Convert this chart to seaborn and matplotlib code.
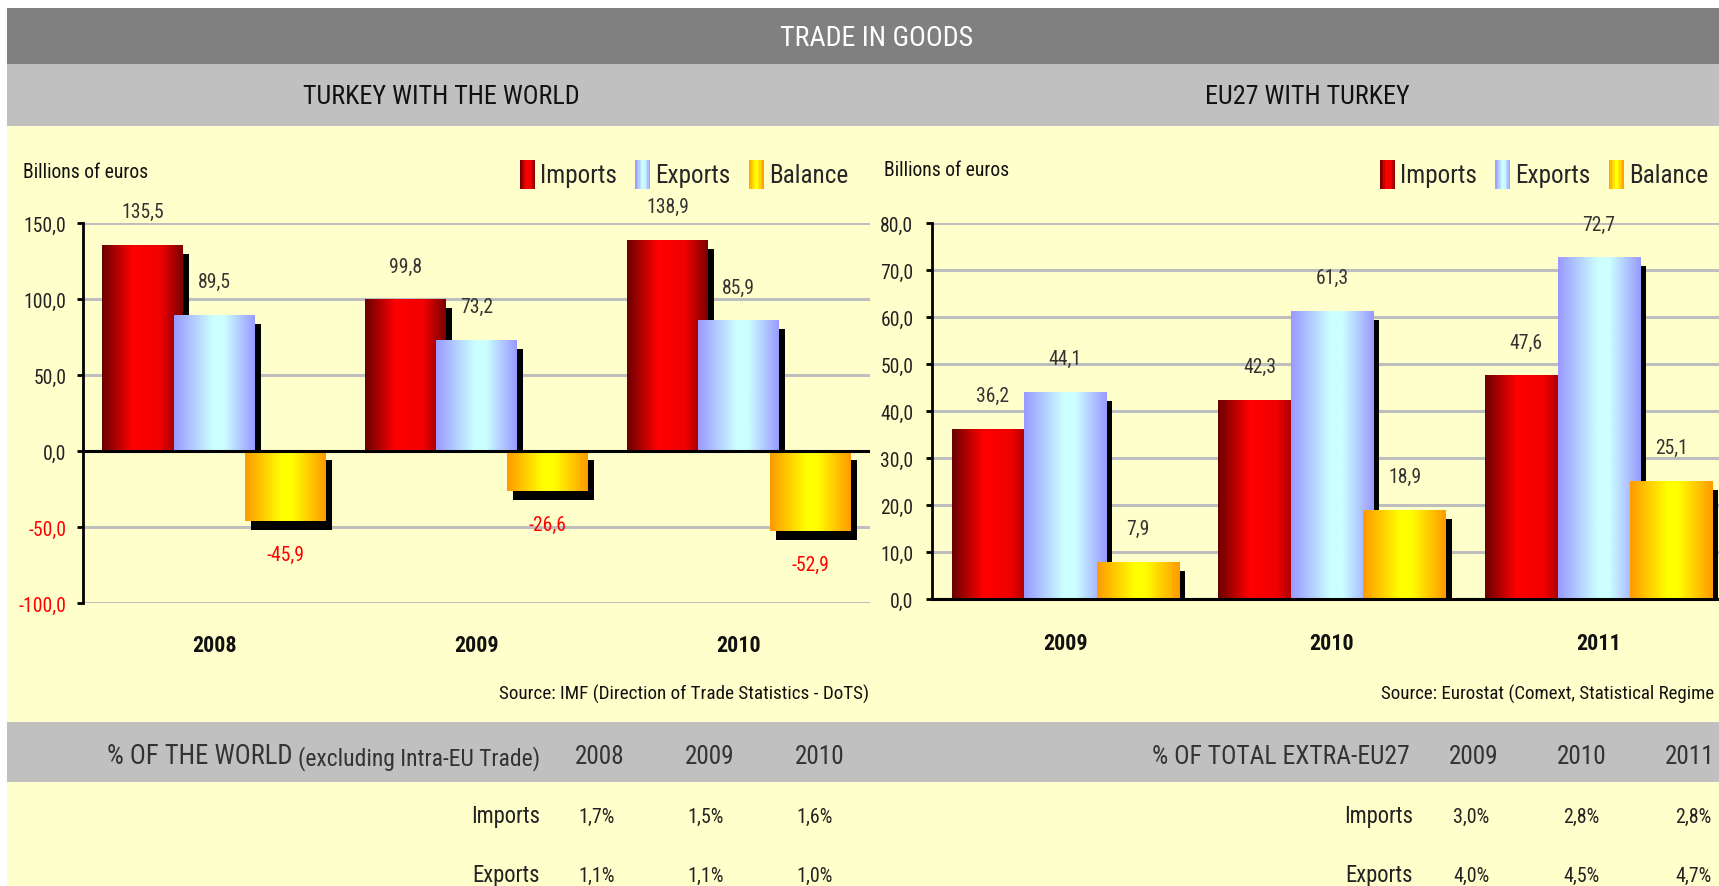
import numpy as np
import pandas as pd
import matplotlib
matplotlib.use("Agg")
import matplotlib.pyplot as plt
import seaborn as sns
import matplotlib.font_manager as fm
from matplotlib.font_manager import FontProperties
from matplotlib.textpath import TextToPath
from matplotlib.patches import Rectangle, Patch
from matplotlib.colors import LinearSegmentedColormap, to_hex
from matplotlib.legend_handler import HandlerBase
from matplotlib.transforms import ScaledTranslation, Bbox, TransformedBbox

# ---------------- data ----------------
series = ["Imports", "Exports", "Balance"]

world_years = ["2008", "2009", "2010"]
world_imports = [135.5, 99.8, 138.9]
world_exports = [89.5, 73.2, 85.9]
world_balance = [-45.9, -26.6, -52.9]
world_ticks = [-100, -50, 0, 50, 100, 150]

eu_years = ["2009", "2010", "2011"]
eu_imports = [36.2, 42.3, 47.6]
eu_exports = [44.1, 61.3, 72.7]
eu_balance = [7.9, 18.9, 25.1]
eu_ticks = [0, 10, 20, 30, 40, 50, 60, 70, 80]

world_share_years = ["2008", "2009", "2010"]
world_share_imports = [1.7, 1.5, 1.6]
world_share_exports = [1.1, 1.1, 1.0]

eu_share_years = ["2009", "2010", "2011"]
eu_share_imports = [3.0, 2.8, 2.8]
eu_share_exports = [4.0, 4.5, 4.7]

# ---------------- font choice (narrow sans if available) ----------------
sns.set_style("white")


def stretch_val(s):
    if isinstance(s, (int, float)):
        return s
    return fm.stretch_dict.get(s, 500)


pref = ["Liberation Sans Narrow", "Roboto Condensed", "Open Sans Condensed",
        "Noto Sans Condensed", "Noto Sans", "DejaVu Sans Condensed", "DejaVu Sans",
        "Open Sans", "Roboto", "Lato", "Inter"]
cands = []
for f in fm.fontManager.ttflist:
    if f.style != "normal":
        continue
    sv = stretch_val(f.stretch)
    nm = f.name
    if sv < 500 or "narrow" in nm.lower() or "condensed" in nm.lower():
        if nm in pref and "CJK" not in nm:
            cands.append((pref.index(nm), abs(sv - 300), nm, sv))
if cands:
    cands.sort()
    FAMILY, STRETCH = cands[0][2], cands[0][3]
else:
    FAMILY, STRETCH = "Liberation Sans", 500

plt.rcParams["font.family"] = [FAMILY, "Liberation Sans", "DejaVu Sans"]
plt.rcParams["font.stretch"] = STRETCH

sample = "Imports Exports Balance 0123456789 TRADE IN GOODS"
t2p = TextToPath()
w_pick = t2p.get_text_width_height_descent(
    sample, FontProperties(family=[FAMILY], stretch=STRETCH, size=100), ismath=False)[0]
w_lib = t2p.get_text_width_height_descent(
    sample, FontProperties(family=["Liberation Sans"], size=100), ismath=False)[0]
K = min(1.15, (0.82 * w_lib) / w_pick)


def fs(size):
    return size * K


W, H = 1719, 887
fig = plt.figure(figsize=(W / 100, H / 100), dpi=100)
fig.patch.set_facecolor("white")


def fx(x):
    return x / W


def fy(y):
    return 1 - y / H


def band(x0, y0, x1, y1, color):
    fig.add_artist(Rectangle((fx(x0), fy(y1)), fx(x1) - fx(x0), fy(y0) - fy(y1),
                             transform=fig.transFigure, facecolor=color,
                             edgecolor="none", zorder=-10))


band(7, 9, W + 5, 65, "#808080")
band(7, 65, W + 5, 127, "#C0C0C0")
band(7, 127, W + 5, 723, "#FFFFCC")
band(7, 723, W + 5, 783, "#C0C0C0")
band(7, 783, W + 5, H + 5, "#FFFFCC")

fig.text(fx(877), fy(38), "TRADE IN GOODS", color="white", fontsize=fs(21),
         ha="center", va="center")
fig.text(fx(441), fy(97), "TURKEY WITH THE WORLD", color="#111111", fontsize=fs(19.6),
         ha="center", va="center")
fig.text(fx(1307), fy(97), "EU27 WITH TURKEY", color="#111111", fontsize=fs(19.6),
         ha="center", va="center")

cmaps = {
    "Imports": LinearSegmentedColormap.from_list(
        "imp", [(0, "#6A0000"), (0.38, "#FF0000"), (0.72, "#F00000"), (1, "#7A0000")]),
    "Exports": LinearSegmentedColormap.from_list(
        "exp", [(0, "#9999FF"), (0.48, "#CCFFFF"), (0.62, "#CCFFFF"), (1, "#9999FF")]),
    "Balance": LinearSegmentedColormap.from_list(
        "bal", [(0, "#FF9900"), (0.45, "#FFFF00"), (0.58, "#FFFF00"), (1, "#FF9900")]),
}
palette = {"Imports": "#E00000", "Exports": "#BBDDFF", "Balance": "#FFCC00"}
zord = {"Imports": 2, "Exports": 3, "Balance": 4}


def fmt(v):
    return f"{v:.1f}".replace(".", ",")


def draw_chart(ax, years, imports, exports, balance, ticks, ylim, xpad, ypad):
    df = pd.DataFrame({
        "year": years * 3,
        "series": np.repeat(series, len(years)),
        "value": imports + exports + balance,
    })
    sns.barplot(data=df, x="year", y="value", hue="series", hue_order=series,
                order=years, palette=palette, width=0.816, saturation=1,
                errorbar=None, legend=False, ax=ax, linewidth=0)
    color_to_series = {to_hex(c): s for s, c in palette.items()}
    new_w = 0.308
    for cont in ax.containers:
        s = color_to_series[to_hex(cont.patches[0].get_facecolor())]
        z = zord[s]
        for p in cont.patches:
            xc = p.get_x() + p.get_width() / 2
            p.set_x(xc - new_w / 2)
            p.set_width(new_w)
            p.set_zorder(z)
            x0, y0, h = p.get_x(), p.get_y(), p.get_height()
            # drop shadow
            sh_tr = ax.transData + ScaledTranslation(6 / 100, -9 / 100, fig.dpi_scale_trans)
            sh = Rectangle((x0, y0), new_w, h, transform=sh_tr, facecolor="black",
                           edgecolor="none", zorder=z - 0.3)
            ax.add_patch(sh)
            if h > 0:
                sh.set_clip_box(TransformedBbox(Bbox([[-0.5, 0], [2.5, ylim[1]]]), ax.transData))
            # gradient face
            grad = cmaps[s](np.linspace(0, 1, 256))[np.newaxis, :, :]
            ext = (x0, x0 + new_w, min(y0, y0 + h), max(y0, y0 + h))
            im = ax.imshow(grad, extent=ext, aspect="auto", interpolation="bilinear",
                           origin="lower", zorder=z + 0.1)
            im.set_clip_path(p)
            # value label
            v = h
            ax.annotate(fmt(v), xy=(xc, v), xytext=(0, 24 if v >= 0 else -24),
                        textcoords="offset points", ha="center", va="center",
                        fontsize=fs(14.8), color="#FF0000" if v < 0 else "#333333",
                        zorder=10, annotation_clip=False)

    ax.set_xlim(-0.5, 2.5)
    ax.set_ylim(*ylim)
    ax.set_facecolor("none")
    ax.set_yticks(ticks)
    ax.set_yticklabels([fmt(t) for t in ticks])
    for lab, t in zip(ax.get_yticklabels(), ticks):
        lab.set_color("#FF0000" if t < 0 else "#222222")
    ax.yaxis.grid(True, color="#BEBEBE", linewidth=2.2)
    ax.xaxis.grid(False)
    ax.set_axisbelow(True)
    ax.set_xlabel("")
    ax.set_ylabel("")
    ax.tick_params(axis="y", direction="out", length=4, width=2, pad=ypad,
                   labelsize=fs(14.8), left=True, color="black")
    ax.tick_params(axis="x", length=0, pad=xpad, labelsize=fs(16.5))
    for lab in ax.get_xticklabels():
        lab.set_fontweight("bold")
        lab.set_color("#111111")
    for sp in ["top", "right"]:
        ax.spines[sp].set_visible(False)
    ax.spines["left"].set_color("black")
    ax.spines["left"].set_linewidth(2)


axL = fig.add_axes([fx(83), fy(604), (870 - 83) / W, (604 - 224) / H])
draw_chart(axL, world_years, world_imports, world_exports, world_balance,
           world_ticks, (-100, 150), xpad=22, ypad=8)
axL.spines["bottom"].set_visible(False)
axL.axhline(0, color="black", linewidth=2.2, zorder=6)

axR = fig.add_axes([fx(932), fy(600), 800 / W, (600 - 224) / H])
draw_chart(axR, eu_years, eu_imports, eu_exports, eu_balance,
           eu_ticks, (0, 80), xpad=24, ypad=9.4)
axR.spines["bottom"].set_color("black")
axR.spines["bottom"].set_linewidth(2.2)
axR.spines["bottom"].set_zorder(6)

# "Billions of euros"
fig.text(fx(23), fy(172), "Billions of euros", fontsize=fs(14.8), ha="left",
         va="center", color="#111111")
fig.text(fx(884), fy(170), "Billions of euros", fontsize=fs(14.8), ha="left",
         va="center", color="#111111")


# legends with gradient swatches
class GradHandler(HandlerBase):
    def __init__(self, cmap):
        super().__init__()
        self.cmap = cmap

    def create_artists(self, legend, orig_handle, xdescent, ydescent, width, height,
                       fontsize, trans):
        n = 10
        arts = []
        for i in range(n):
            arts.append(Rectangle((-xdescent + width * i / n, -ydescent - 0.18 * height),
                                  width / n * 1.08, height * 1.22,
                                  facecolor=self.cmap((i + 0.5) / n),
                                  edgecolor="none", transform=trans))
        return arts


for anchor_x in (520, 1380):
    handles = [Patch(facecolor=palette[s], label=s) for s in series]
    fig.legend(handles=handles, labels=series, loc="center left",
               bbox_to_anchor=(fx(anchor_x), fy(175)), bbox_transform=fig.transFigure,
               frameon=False, borderpad=0, borderaxespad=0, ncol=3,
               handlelength=0.57 / K, handleheight=1.0 / K, handletextpad=0.2 / K,
               columnspacing=0.68 / K, fontsize=fs(19),
               handler_map={h: GradHandler(cmaps[h.get_label()]) for h in handles})

# sources
fig.text(fx(869), fy(694), "Source: IMF (Direction of Trade Statistics - DoTS)",
         fontsize=fs(14.4), ha="right", va="center", color="#111111")
fig.text(fx(1714), fy(694), "Source: Eurostat (Comext, Statistical Regime",
         fontsize=fs(14.2), ha="right", va="center", color="#111111")

# tables
renderer = fig.canvas.get_renderer()
excl = fig.text(fx(540), fy(759), "(excluding Intra-EU Trade)", fontsize=fs(17.8),
                ha="right", va="center", color="#333333")
x_left = excl.get_window_extent(renderer).x0
fig.text((x_left - 5) / W, fy(757), "% OF THE WORLD", fontsize=fs(20), ha="right",
         va="center", color="#333333")
for xc, yr in zip([600, 710, 820], world_share_years):
    fig.text(fx(xc), fy(757), yr, fontsize=fs(19), ha="center", va="center",
             color="#333333")
fig.text(fx(540), fy(817), "Imports", fontsize=fs(17), ha="right", va="center",
         color="#222222")
fig.text(fx(540), fy(876), "Exports", fontsize=fs(17), ha="right", va="center",
         color="#222222")
for xc, v in zip([597, 706, 815], world_share_imports):
    fig.text(fx(xc), fy(817), fmt(v) + "%", fontsize=fs(15), ha="center",
             va="center", color="#222222")
for xc, v in zip([597, 706, 815], world_share_exports):
    fig.text(fx(xc), fy(876), fmt(v) + "%", fontsize=fs(15), ha="center",
             va="center", color="#222222")

fig.text(fx(1410), fy(757), "% OF TOTAL EXTRA-EU27", fontsize=fs(19.3), ha="right",
         va="center", color="#333333")
for xc, yr in zip([1474, 1582, 1690], eu_share_years):
    fig.text(fx(xc), fy(757), yr, fontsize=fs(19), ha="center", va="center",
             color="#333333")
fig.text(fx(1413), fy(817), "Imports", fontsize=fs(17), ha="right", va="center",
         color="#222222")
fig.text(fx(1413), fy(876), "Exports", fontsize=fs(17), ha="right", va="center",
         color="#222222")
for xc, v in zip([1471, 1581, 1693], eu_share_imports):
    fig.text(fx(xc), fy(817), fmt(v) + "%", fontsize=fs(15), ha="center",
             va="center", color="#222222")
for xc, v in zip([1471, 1581, 1693], eu_share_exports):
    fig.text(fx(xc), fy(876), fmt(v) + "%", fontsize=fs(15), ha="center",
             va="center", color="#222222")

fig.savefig("out.png", dpi=100)
